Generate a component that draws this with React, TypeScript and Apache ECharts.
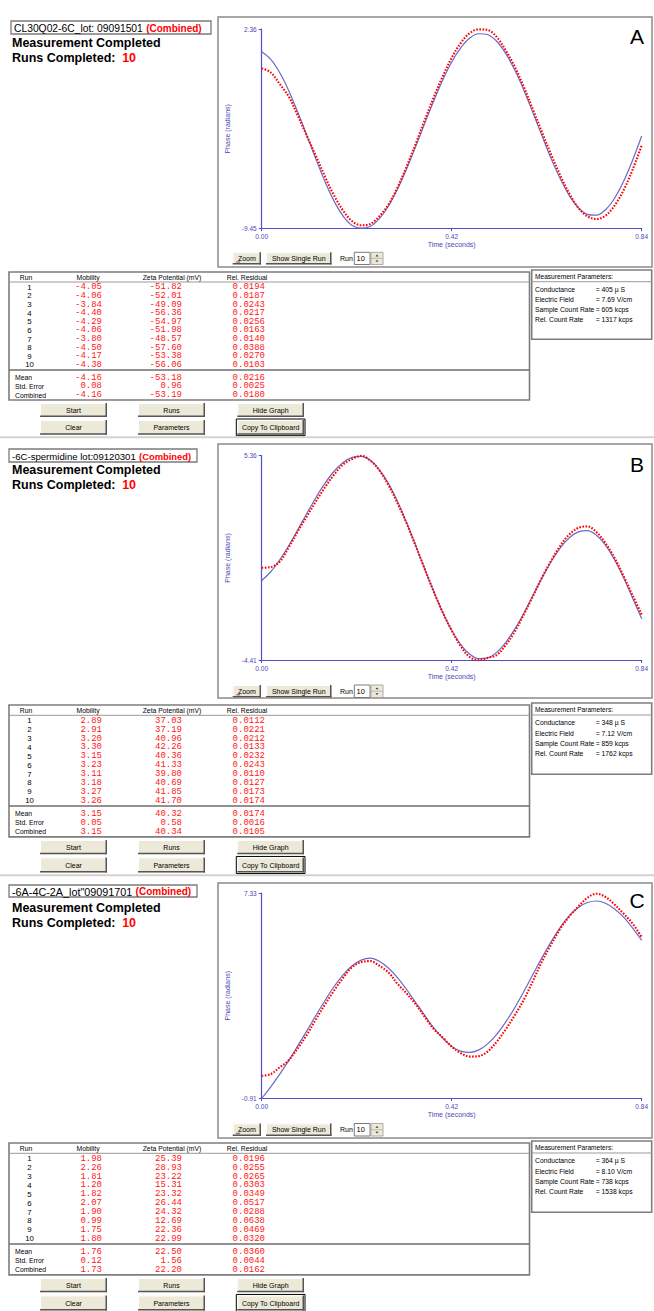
import React, { useEffect, useRef } from "react";
import * as echarts from "echarts";

// ---------------- data ----------------
const TIME = [0, 0.02, 0.04, 0.06, 0.08, 0.1, 0.12, 0.14, 0.16, 0.18, 0.2, 0.22, 0.24, 0.26, 0.28, 0.3, 0.32, 0.34, 0.36, 0.38, 0.4, 0.42, 0.44, 0.46, 0.48, 0.5, 0.52, 0.54, 0.56, 0.58, 0.6, 0.62, 0.64, 0.66, 0.68, 0.7, 0.72, 0.74, 0.76, 0.78, 0.8, 0.82, 0.84];
const X_TICKS = [0, 0.42, 0.84];

const FIT_A = [1.01, 0.56, -0.23, -1.30, -2.58, -3.95, -5.35, -6.67, -7.82, -8.70, -9.26, -9.42, -9.32, -8.86, -8.12, -7.12, -5.93, -4.62, -3.25, -1.91, -0.67, 0.41, 1.25, 1.83, 2.08, 2.02, 1.62, 0.89, -0.10, -1.29, -2.63, -3.99, -5.32, -6.50, -7.49, -8.20, -8.60, -8.65, -8.33, -7.65, -6.65, -5.39, -3.97];
const MEAS_A = [0.03, -0.21, -0.90, -1.64, -2.78, -3.97, -5.16, -6.38, -7.49, -8.38, -9.01, -9.25, -9.17, -8.72, -8.03, -7.02, -5.79, -4.45, -3.06, -1.70, -0.45, 0.66, 1.53, 2.12, 2.34, 2.30, 1.87, 1.07, 0.09, -1.10, -2.43, -3.77, -5.08, -6.30, -7.37, -8.22, -8.72, -8.88, -8.68, -8.08, -7.17, -5.95, -4.52];
const Y_LIMITS_A = [-9.45, 2.36];

const FIT_B = [-0.60, -0.18, 0.39, 1.07, 1.83, 2.61, 3.36, 4.04, 4.61, 5.03, 5.27, 5.32, 5.13, 4.69, 4.03, 3.18, 2.18, 1.10, -0.02, -1.11, -2.11, -2.97, -3.65, -4.11, -4.32, -4.28, -4.01, -3.53, -2.89, -2.13, -1.29, -0.46, 0.31, 0.96, 1.44, 1.72, 1.78, 1.56, 1.09, 0.39, -0.47, -1.44, -2.42];
const MEAS_B = [0.01, 0.04, 0.31, 0.99, 1.75, 2.47, 3.18, 3.85, 4.45, 4.93, 5.19, 5.35, 5.12, 4.65, 3.96, 3.10, 2.14, 1.07, -0.03, -1.11, -2.11, -2.98, -3.73, -4.25, -4.39, -4.28, -4.14, -3.66, -3.01, -2.19, -1.33, -0.44, 0.36, 1.06, 1.60, 1.91, 1.98, 1.71, 1.18, 0.48, -0.39, -1.31, -2.22];
const Y_LIMITS_B = [-4.41, 5.36];

const FIT_C = [-0.91, -0.44, 0.07, 0.62, 1.21, 1.81, 2.43, 3.02, 3.58, 4.05, 4.41, 4.64, 4.72, 4.59, 4.32, 3.94, 3.47, 2.95, 2.43, 1.93, 1.51, 1.18, 0.99, 0.94, 1.04, 1.29, 1.67, 2.17, 2.75, 3.40, 4.08, 4.75, 5.38, 5.95, 6.42, 6.75, 6.95, 7.01, 6.92, 6.69, 6.36, 5.92, 5.43];
const MEAS_C = [0.00, 0.07, 0.34, 0.63, 1.11, 1.65, 2.27, 2.86, 3.42, 3.93, 4.36, 4.56, 4.60, 4.41, 4.15, 3.69, 3.31, 2.88, 2.37, 1.88, 1.54, 1.17, 0.91, 0.77, 0.79, 0.98, 1.38, 1.88, 2.45, 3.07, 3.82, 4.60, 5.27, 5.90, 6.39, 6.79, 7.14, 7.30, 7.17, 6.87, 6.50, 6.10, 5.56];
const Y_LIMITS_C = [-0.91, 7.33];

const SAMPLE_NAMES = ["CL30Q02-6C_lot: 09091501", "-6C-spermidine lot:09120301", "-6A-4C-2A_lot\"09091701"];
const PANEL_LETTERS = ["A", "B", "C"];
const RUNS_COMPLETED = [10, 10, 10];
const RUN_NUMBERS = [1, 2, 3, 4, 5, 6, 7, 8, 9, 10];
const TABLE_HEADERS = ["Run", "Mobility", "Zeta Potential (mV)", "Rel. Residual"];
const SUMMARY_LABELS = ["Mean", "Std. Error", "Combined"];
const PARAM_LABELS = ["Conductance", "Electric Field", "Sample Count Rate", "Rel. Count Rate"];
const BUTTONS_ROW1 = ["Start", "Runs", "Hide Graph"];
const BUTTONS_ROW2 = ["Clear", "Parameters", "Copy To Clipboard"];

const MOBILITY_A = [-4.05, -4.06, -3.84, -4.40, -4.29, -4.06, -3.80, -4.50, -4.17, -4.38];
const ZETA_A = [-51.82, -52.01, -49.09, -56.36, -54.97, -51.98, -48.57, -57.60, -53.38, -56.06];
const RESID_A = [0.0194, 0.0187, 0.0243, 0.0217, 0.0256, 0.0163, 0.0140, 0.0388, 0.0270, 0.0103];
const SUM_MOBILITY_A = [-4.16, 0.08, -4.16];
const SUM_ZETA_A = [-53.18, 0.96, -53.19];
const SUM_RESID_A = [0.0216, 0.0025, 0.0180];
const PARAM_VALUES_A = ["= 405 µ S", "= 7.69 V/cm", "= 605 kcps", "= 1317 kcps"];

const MOBILITY_B = [2.89, 2.91, 3.20, 3.30, 3.15, 3.23, 3.11, 3.18, 3.27, 3.26];
const ZETA_B = [37.03, 37.19, 40.96, 42.26, 40.36, 41.33, 39.80, 40.69, 41.85, 41.70];
const RESID_B = [0.0112, 0.0221, 0.0212, 0.0133, 0.0232, 0.0243, 0.0110, 0.0127, 0.0173, 0.0174];
const SUM_MOBILITY_B = [3.15, 0.05, 3.15];
const SUM_ZETA_B = [40.32, 0.58, 40.34];
const SUM_RESID_B = [0.0174, 0.0016, 0.0105];
const PARAM_VALUES_B = ["= 348 µ S", "= 7.12 V/cm", "= 859 kcps", "= 1762 kcps"];

const MOBILITY_C = [1.98, 2.26, 1.81, 1.20, 1.82, 2.07, 1.90, 0.99, 1.75, 1.80];
const ZETA_C = [25.39, 28.93, 23.22, 15.31, 23.32, 26.44, 24.32, 12.69, 22.36, 22.99];
const RESID_C = [0.0196, 0.0255, 0.0265, 0.0303, 0.0349, 0.0517, 0.0288, 0.0638, 0.0469, 0.0320];
const SUM_MOBILITY_C = [1.76, 0.12, 1.73];
const SUM_ZETA_C = [22.50, 1.56, 22.20];
const SUM_RESID_C = [0.0360, 0.0044, 0.0162];
const PARAM_VALUES_C = ["= 364 µ S", "= 8.10 V/cm", "= 738 kcps", "= 1538 kcps"];

// ---------------- layout / style ----------------
const SANS = '"Liberation Sans", Arial, sans-serif';
const MONO = '"Liberation Mono", "Courier New", monospace';
const RED = "#ff2020";
const AXIS_COLOR = "#5050c0";
const LABEL_COLOR = "#4a4ab4";
const FIT_COLOR = "#6a6ac8";

const LAYOUTS = [
  { titleLeft: 11, titleRight: 211, titleTop: 21, titleBottom: 34, textLeft: 14, nameSize: 10.3, combSize: 10, mcY: 42.5, rcY: 58,
    frameTop: 17, frameBottom: 267, plotTop: 29, plotBottom: 228.7, letterY: 36,
    btnTop: 252.3, btnBottom: 264.5, tableTop: 272, sy: 1.0, hr: true },
  { titleLeft: 9, titleRight: 197, titleTop: 449, titleBottom: 462, textLeft: 12, nameSize: 9.6, combSize: 9.4, mcY: 470, rcY: 485,
    frameTop: 444, frameBottom: 698, plotTop: 455.5, plotBottom: 660.5, letterY: 464.5,
    btnTop: 685, btnBottom: 697.5, tableTop: 705, sy: 1.03, hr: true },
  { titleLeft: 9, titleRight: 197, titleTop: 885, titleBottom: 897, textLeft: 12, nameSize: 10.8, combSize: 10, mcY: 908, rcY: 923,
    frameTop: 883, frameBottom: 1138, plotTop: 893, plotBottom: 1098.5, letterY: 900,
    btnTop: 1123.5, btnBottom: 1136, tableTop: 1143, sy: 1.03, hr: false },
];

const PANELS = [
  { fit: FIT_A, meas: MEAS_A, lim: Y_LIMITS_A, mob: MOBILITY_A, zeta: ZETA_A, resid: RESID_A,
    sMob: SUM_MOBILITY_A, sZeta: SUM_ZETA_A, sResid: SUM_RESID_A, params: PARAM_VALUES_A },
  { fit: FIT_B, meas: MEAS_B, lim: Y_LIMITS_B, mob: MOBILITY_B, zeta: ZETA_B, resid: RESID_B,
    sMob: SUM_MOBILITY_B, sZeta: SUM_ZETA_B, sResid: SUM_RESID_B, params: PARAM_VALUES_B },
  { fit: FIT_C, meas: MEAS_C, lim: Y_LIMITS_C, mob: MOBILITY_C, zeta: ZETA_C, resid: RESID_C,
    sMob: SUM_MOBILITY_C, sZeta: SUM_ZETA_C, sResid: SUM_RESID_C, params: PARAM_VALUES_C },
];

// ---------------- graphic helpers ----------------
function T(x: number, y: number, text: string, o: any = {}) {
  return {
    type: "text", x, y, silent: true, scaleX: o.sx ?? 1, z: 10,
    style: {
      text, fill: o.fill ?? "#000", fontSize: o.size ?? 7, fontFamily: o.family ?? SANS,
      fontWeight: o.weight ?? "normal", align: o.align ?? "left", verticalAlign: "middle",
    },
  };
}
function R(x: number, y: number, w: number, h: number, fill: string, stroke?: string, lw = 1) {
  return { type: "rect", silent: true, z: 5, shape: { x, y, width: w, height: h }, style: { fill, stroke: stroke ?? null, lineWidth: lw } };
}
function L(x1: number, y1: number, x2: number, y2: number, stroke: string, lw = 1) {
  return { type: "line", silent: true, z: 6, shape: { x1, y1, x2, y2 }, style: { stroke, lineWidth: lw } };
}
function button(x1: number, y1: number, x2: number, y2: number, label: string, def = false) {
  const out: any[] = [];
  if (def) out.push(R(x1 - 1, y1 - 1, x2 - x1 + 2, y2 - y1 + 2, "none", "#000", 1));
  out.push(R(x1, y1, x2 - x1, y2 - y1, "#ece9d8"));
  out.push(L(x1, y1 + 0.5, x2, y1 + 0.5, "#ffffff", 1));
  out.push(L(x1 + 0.5, y1, x1 + 0.5, y2, "#ffffff", 1));
  out.push(L(x1, y2 - 0.75, x2, y2 - 0.75, "#555555", 1.5));
  out.push(L(x2 - 0.75, y1, x2 - 0.75, y2, "#555555", 1.5));
  out.push(T((x1 + x2) / 2, (y1 + y2) / 2, label, { align: "center", size: 7 }));
  return out;
}

function panelGraphics(i: number) {
  const g: any[] = [];
  const lay = LAYOUTS[i];
  const p = PANELS[i];
  // header block
  g.push(R(lay.titleLeft, lay.titleTop, lay.titleRight - lay.titleLeft, lay.titleBottom - lay.titleTop, "#fff", "#7b7b7b", 1.3));
  g.push({
    type: "text", x: lay.textLeft, y: (lay.titleTop + lay.titleBottom) / 2 + 0.5, silent: true, z: 10,
    style: {
      text: `{n|${SAMPLE_NAMES[i]}} {r|(Combined)}`, verticalAlign: "middle",
      rich: {
        n: { fontSize: lay.nameSize, fontFamily: SANS, fill: "#000" },
        r: { fontSize: lay.combSize, fontFamily: SANS, fontWeight: "bold", fill: "#ff0000" },
      },
    },
  });
  g.push(T(12, lay.mcY, "Measurement Completed", { size: 12.5, weight: "bold" }));
  g.push({
    type: "text", x: 12, y: lay.rcY, silent: true, z: 10,
    style: {
      text: `{b|Runs Completed:}  {r|${RUNS_COMPLETED[i]}}`, verticalAlign: "middle",
      rich: {
        b: { fontSize: 12.5, fontFamily: SANS, fontWeight: "bold", fill: "#000" },
        r: { fontSize: 12.5, fontFamily: SANS, fontWeight: "bold", fill: "#ff0000" },
      },
    },
  });

  // chart frame
  g.push(R(218, lay.frameTop, 434, lay.frameBottom - lay.frameTop, "none", "#8a8a8a", 1.5));
  g.push(T(637, lay.letterY, PANEL_LETTERS[i], { size: 21, align: "center" }));
  const bt = lay.btnTop, bb = lay.btnBottom, bm = (bt + bb) / 2;
  g.push(...button(232.7, bt, 261, bb, "Zoom"));
  g.push(L(236.2, bm + 3.6, 240.2, bm + 3.6, "#000", 0.6));
  g.push(...button(266, bt, 331.5, bb, "Show Single Run"));
  g.push(T(340, bm, "Run", { size: 7 }));
  g.push(R(354.3, bt, 15.7, bb - bt, "#fff", "#7a7a7a", 1));
  g.push(T(356.5, bm, "10", { size: 7.5 }));
  g.push(R(371, bt, 12, bb - bt, "#ece9d8", "#9a9a9a", 0.8));
  g.push(L(371, bm, 383, bm, "#9a9a9a", 0.6));
  g.push({ type: "polygon", silent: true, z: 7, shape: { points: [[375.5, bm - 2], [378.5, bm - 2], [377, bm - 3.8]] }, style: { fill: "#333" } });
  g.push({ type: "polygon", silent: true, z: 7, shape: { points: [[375.5, bm + 2], [378.5, bm + 2], [377, bm + 3.8]] }, style: { fill: "#333" } });

  // results table
  const T0 = lay.tableTop, s = lay.sy;
  const y = (o: number) => T0 + o * s;
  g.push(R(9, y(0), 520.5, 128 * s, "#fff", "#7d7d7d", 1.6));
  const headerX = [26, 88, 172, 247];
  TABLE_HEADERS.forEach((h, k) => g.push(T(headerX[k], y(5), h, { align: "center", size: 6.8 })));
  g.push(L(9, y(10), 529.5, y(10), "#9a9a9a", 1));
  RUN_NUMBERS.forEach((r, k) => {
    const yy = y(15.3 + 8.63 * k);
    g.push(T(29.5, yy, String(r), { align: "center", size: 7.8 }));
    g.push(T(102, yy, p.mob[k].toFixed(2), { align: "right", family: MONO, size: 9, fill: RED }));
    g.push(T(182, yy, p.zeta[k].toFixed(2), { align: "right", family: MONO, size: 9, fill: RED }));
    g.push(T(265, yy, p.resid[k].toFixed(4), { align: "right", family: MONO, size: 9, fill: RED }));
  });
  g.push(L(9, y(98), 529.5, y(98), "#6e6e6e", 1.6));
  SUMMARY_LABELS.forEach((lab, k) => {
    const yy = y(105.5 + 8.85 * k);
    g.push(T(15, yy, lab, { size: 6.8 }));
    g.push(T(102, yy, p.sMob[k].toFixed(2), { align: "right", family: MONO, size: 9, fill: RED }));
    g.push(T(182, yy, p.sZeta[k].toFixed(2), { align: "right", family: MONO, size: 9, fill: RED }));
    g.push(T(265, yy, p.sResid[k].toFixed(4), { align: "right", family: MONO, size: 9, fill: RED }));
  });

  // parameters box
  g.push(R(531.7, y(-2), 120, 69.3 * s, "#fff", "#7d7d7d", 1.6));
  g.push(T(535, y(4.7), "Measurement Parameters:", { size: 6.6 }));
  g.push(L(531.7, y(9.7), 651.7, y(9.7), "#9a9a9a", 1));
  PARAM_LABELS.forEach((lab, k) => {
    const yy = y(17.3 + 10 * k);
    g.push(T(535, yy, lab, { size: 6.8 }));
    g.push(T(595.7, yy, p.params[k], { size: 6.8 }));
  });

  // buttons
  const bx = [[40, 107], [138, 205], [237.3, 304]];
  BUTTONS_ROW1.forEach((b, k) => g.push(...button(bx[k][0], y(131), bx[k][1], y(145), b)));
  BUTTONS_ROW2.forEach((b, k) => g.push(...button(bx[k][0], y(148), bx[k][1], y(162.7), b, k === 2)));
  if (lay.hr) g.push(L(0, y(165.3), 654, y(165.3), "#d2d2d2", 2));
  return g;
}

function buildOption() {
  const grid = LAYOUTS.map((lay) => ({ left: 261.7, width: 380, top: lay.plotTop, height: lay.plotBottom - lay.plotTop, containLabel: false }));
  const xAxis = LAYOUTS.map((_, i) => ({
    type: "value", gridIndex: i, min: X_TICKS[0], max: X_TICKS[X_TICKS.length - 1], interval: X_TICKS[1] - X_TICKS[0],
    axisLine: { show: true, onZero: false, lineStyle: { color: AXIS_COLOR, width: 1.2 } },
    axisTick: { show: true, length: 2.5, lineStyle: { color: AXIS_COLOR } },
    axisLabel: { color: LABEL_COLOR, fontSize: 6.5, fontFamily: SANS, margin: 4.5, formatter: (v: number) => v.toFixed(2), showMinLabel: true, showMaxLabel: true },
    splitLine: { show: false },
    name: "Time (seconds)", nameLocation: "middle", nameGap: 12.5,
    nameTextStyle: { color: LABEL_COLOR, fontSize: 7, fontFamily: SANS },
  }));
  const yAxis = PANELS.map((p, i) => {
    const lo = p.lim[0], hi = p.lim[1];
    return {
      type: "value", gridIndex: i, min: lo, max: hi,
      axisLine: { show: true, onZero: false, lineStyle: { color: AXIS_COLOR, width: 1.2 } },
      axisTick: { show: true, length: 3, customValues: [lo, hi], lineStyle: { color: AXIS_COLOR } },
      axisLabel: {
        customValues: [lo, hi], color: LABEL_COLOR, fontSize: 6.5, fontFamily: SANS, margin: 5,
        formatter: (v: number) => (Math.abs(v - lo) < 1e-6 || Math.abs(v - hi) < 1e-6 ? v.toFixed(2) : ""),
      },
      splitLine: { show: false },
      name: "Phase (radians)", nameLocation: "middle", nameGap: 31,
      nameTextStyle: { color: LABEL_COLOR, fontSize: 7, fontFamily: SANS },
    };
  });
  const series: any[] = [];
  PANELS.forEach((p, i) => {
    series.push({
      type: "line", xAxisIndex: i, yAxisIndex: i, silent: true, showSymbol: false, smooth: 0.35, z: 2,
      data: TIME.map((t, k) => [t, p.fit[k]]),
      lineStyle: { color: FIT_COLOR, width: 1.2 },
    });
    series.push({
      type: "line", xAxisIndex: i, yAxisIndex: i, silent: true, showSymbol: false, smooth: 0.35, z: 3,
      data: TIME.map((t, k) => [t, p.meas[k]]),
      lineStyle: { color: "#ff0000", width: 2.1, type: [1.6, 1.5], cap: "butt" },
    });
  });
  const elements: any[] = [];
  LAYOUTS.forEach((_, i) => elements.push(...panelGraphics(i)));
  return {
    animation: false,
    backgroundColor: "#ffffff",
    grid, xAxis, yAxis, series,
    graphic: { elements },
  };
}

export default function App() {
  const ref = useRef<HTMLDivElement>(null);
  useEffect(() => {
    if (!ref.current) return;
    const chart = echarts.init(ref.current, null, { renderer: "svg" });
    chart.setOption(buildOption() as any);
    return () => chart.dispose();
  }, []);
  return <div ref={ref} style={{ position: "absolute", left: 0, top: 0, width: 654, height: 1311, background: "#fff" }} />;
}
